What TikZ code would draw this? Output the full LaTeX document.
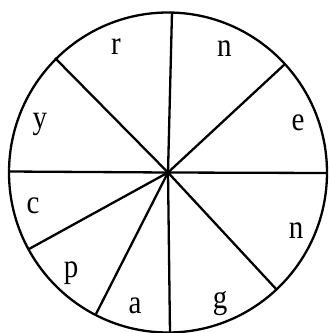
\documentclass[tikz,border=0pt]{standalone}
\usepackage{fontspec}
\setmainfont{Liberation Serif}
\begin{document}
\begin{tikzpicture}[x=1pt,y=-1pt,
  rim/.style={line width=2.3pt},
  spoke/.style={line width=2.3pt},
  lab/.style={font=\fontsize{29}{29}\selectfont, inner sep=0pt, anchor=base, yscale=1.15}]
\useasboundingbox (0,0) rectangle (329,333);
\coordinate (O) at (168,172.5);
\draw[rim] (O) ellipse [x radius=159, y radius=160];
\coordinate (T) at (172,12.5);
\coordinate (B) at (170,333);
\coordinate (L) at (9,171.5);
\coordinate (R) at (327,173);
\coordinate (UL) at (55,58);
\coordinate (UR) at (285,64);
\coordinate (LLa) at (29,249);
\coordinate (LLb) at (96,314);
\coordinate (LR) at (277,290);
\foreach \p in {T,B,L,R,UL,UR,LLa,LLb,LR} \draw[spoke] (O) -- (\p);
\fill (O) circle (2.8);
\node[lab] (r)  at (116,54) {r};
\node[lab] (n1) at (224.5,56) {n};
\node[lab] (e)  at (298,130) {e};
\node[lab] (y)  at (40,128) {y};
\node[lab] (c)  at (33,213) {c};
\node[lab] (n2) at (296,238) {n};
\node[lab] (p)  at (71,277) {p};
\node[lab] (a)  at (135,313) {a};
\node[lab] (g)  at (220,308) {g};
\end{tikzpicture}
\end{document}
